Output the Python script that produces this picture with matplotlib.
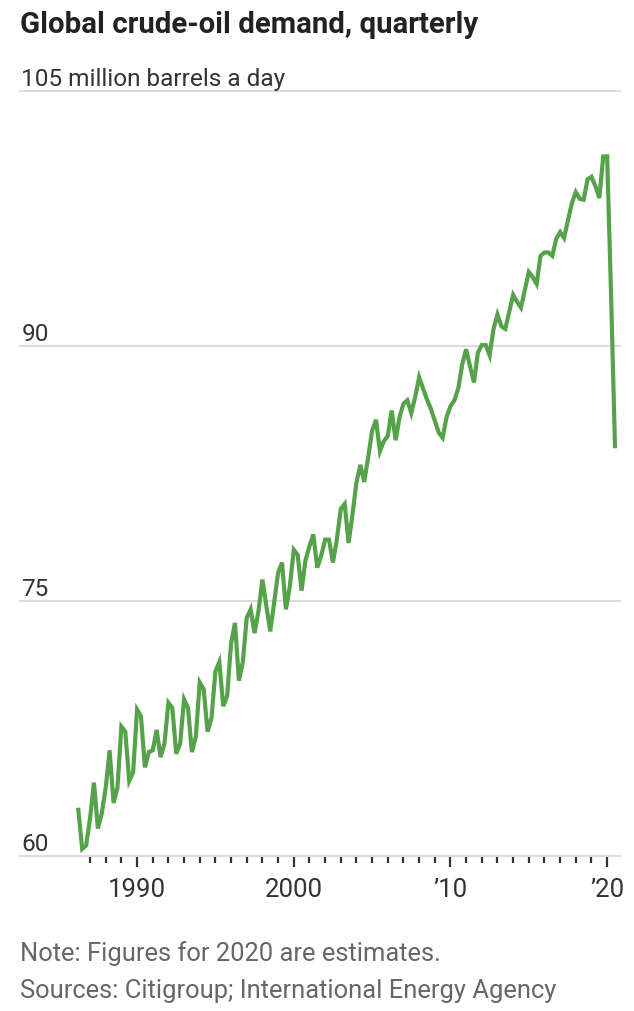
import numpy as np
import matplotlib
matplotlib.use("Agg")
import matplotlib.pyplot as plt

# Quarterly global crude-oil demand, million barrels a day
demand = [
    62.7, 60.4, 60.6, 62.2, 64.3, 61.6, 62.5, 64.0, 66.2, 63.1,
    64.0, 67.6, 67.3, 64.4, 64.9, 68.6, 68.2, 65.2, 66.1, 66.2,
    67.4, 65.8, 66.6, 69.0, 68.7, 66.0, 66.6, 69.2, 68.7, 66.1,
    67.0, 70.2, 69.8, 67.3, 68.1, 70.85, 71.4, 68.8, 69.4, 72.5,
    73.7, 70.3, 71.4, 74.0, 74.5, 73.1, 74.4, 76.25, 74.7, 73.2,
    74.9, 76.65, 77.25, 74.5, 75.85, 78.0, 77.7, 75.6, 77.4, 78.2,
    78.9, 76.95, 77.65, 78.6, 78.6, 77.25, 78.6, 80.4, 80.7, 78.4,
    80.1, 81.95, 83.0, 82.0, 83.45, 85.0, 85.65, 83.8, 84.4, 84.7,
    86.2, 84.45, 85.8, 86.6, 86.8, 86.05, 87.0, 88.15, 87.5, 86.85,
    86.3, 85.6, 84.9, 84.6, 85.8, 86.45, 86.8, 87.5, 88.9, 89.8,
    88.8, 87.85, 89.6, 90.05, 90.05, 89.45, 91.0, 91.85, 91.15, 91.0,
    92.0, 93.0, 92.6, 92.25, 93.3, 94.35, 94.05, 93.65, 95.3, 95.5,
    95.5, 95.3, 96.3, 96.7, 96.35, 97.4, 98.4, 99.05, 98.65, 98.6,
    99.8, 99.95, 99.4, 98.7, 101.15, 101.15, 93.0, 84.1,
]
quarters = 1986.25 + 0.25 * np.arange(len(demand))

y_ticks = [60, 75, 90, 105]
y_labels = ["60", "75", "90", "105 million barrels a day"]
x_major = [1990, 2000, 2010, 2020]
x_major_labels = ["1990", "2000", "\u201910", "\u201920"]
x_minor = list(range(1987, 2021))

plt.rcParams["font.family"] = ["Roboto", "DejaVu Sans"]

fig = plt.figure(figsize=(6.34, 10.12), dpi=100)
ax = fig.add_axes([20 / 634, (1012 - 856.7) / 1012, 600 / 634, (856.7 - 92) / 1012])

ax.plot(quarters, demand, color="#56a24a", lw=3.0, solid_joinstyle="miter",
        clip_on=False, zorder=3)

ax.set_xlim(1982.53, 2020.82)
ax.set_ylim(60, 105)

for s in ax.spines.values():
    s.set_visible(False)

ax.set_yticks(y_ticks)
ax.tick_params(axis="y", length=0, labelleft=False)
ax.yaxis.grid(True, color="#dcdcdc", lw=1.5)
for gl in ax.get_ygridlines():
    gl.set_clip_on(False)
ax.set_axisbelow(True)

for v, lab in zip(y_ticks, y_labels):
    ax.annotate(lab, xy=(0, v), xycoords=("axes fraction", "data"),
                xytext=(1, 4), textcoords="offset points",
                ha="left", va="baseline", fontsize=17.6, color="#333333")

ax.set_xticks(x_major)
ax.set_xticklabels(x_major_labels)
ax.set_xticks(x_minor, minor=True)
ax.tick_params(axis="x", which="major", length=8, width=1.6, color="#333333",
               pad=7, labelsize=18.5, labelcolor="#333333")
ax.tick_params(axis="x", which="minor", length=5, width=1.6, color="#333333")

fig.text(20 / 634, 1 - 33 / 1012, "Global crude-oil demand, quarterly",
         fontsize=21.2, fontweight="bold", color="#222222", va="baseline")
fig.text(20 / 634, 1 - 961 / 1012, "Note: Figures for 2020 are estimates.",
         fontsize=18.4, color="#666666", va="baseline")
fig.text(20 / 634, 1 - 998 / 1012, "Sources: Citigroup; International Energy Agency",
         fontsize=18.4, color="#666666", va="baseline")

fig.savefig("out.png", dpi=100)
